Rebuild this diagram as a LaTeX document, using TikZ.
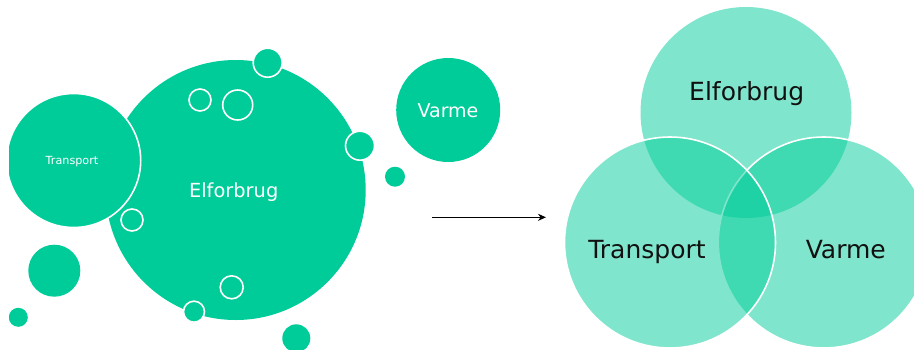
\documentclass[tikz,border=0pt]{standalone}
\usepackage{fontspec}
\setmainfont{DejaVu Sans}
\usetikzlibrary{arrows.meta}
\definecolor{grn}{RGB}{0,204,153}
\definecolor{txt}{RGB}{17,17,17}
\tikzset{
  bub/.style={circle, inner sep=0pt, outer sep=0pt, fill=grn, draw=none},
  ring/.style={bub, draw=white, line width=1.6pt},
  venn/.style={circle, inner sep=0pt, outer sep=0pt, fill=grn, fill opacity=0.5},
  wlab/.style={text=white, inner sep=0pt, anchor=base},
  blab/.style={text=txt, inner sep=0pt, anchor=base, font=\fontsize{25}{30}\selectfont},
}
\begin{document}
\begin{tikzpicture}[x=1pt,y=-1pt]
\useasboundingbox (0,0) rectangle (914,349);
\begin{scope}
\clip (9,0) rectangle (914,349);
% left cluster
\node[bub, minimum size=260pt] (elf) at (235.7,190) {};
\node[ring, minimum size=134pt] (tra) at (73.7,160.5) {};
\node[ring, minimum size=29pt] (s1) at (267.7,62.7) {};
\node[ring, minimum size=22pt] (r1) at (200,100) {};
\node[ring, minimum size=30pt] (r2) at (237.7,105) {};
\node[ring, minimum size=29pt] (s2) at (360,145.7) {};
\node[bub, minimum size=20pt] (s3) at (395,176.7) {};
\node[ring, minimum size=22pt] (r3) at (132,220) {};
\node[bub, minimum size=52pt] (s4) at (54.3,270.7) {};
\node[bub, minimum size=19pt] (s5) at (18.3,317.3) {};
\node[ring, minimum size=23pt] (r4) at (231.7,287.3) {};
\node[ring, minimum size=21pt] (s6) at (194,311.7) {};
\node[bub, minimum size=28pt] (s7) at (296.3,338.3) {};
\node[bub, minimum size=104pt] (var) at (448.2,110) {};
\end{scope}
\node[wlab, font=\fontsize{19.4}{23}\selectfont] (elft) at (233.7,197.3) {Elforbrug};
\node[wlab, font=\fontsize{19}{23}\selectfont] (vart) at (448,117.7) {Varme};
\node[wlab, font=\fontsize{11.2}{13}\selectfont] (trat) at (72,164) {Transport};
% arrow
\coordinate (a1) at (432,217.3);
\coordinate (a2) at (546,217.3);
\draw[line width=1pt, -{Stealth[length=8pt,width=7pt]}] (a1) -- (a2);
% Venn
\node[venn, minimum size=211pt] (vtop) at (746,112.5) {};
\node[venn, minimum size=211pt, draw=white, draw opacity=1, line width=1.6pt] (vright) at (823.8,242.5) {};
\node[venn, minimum size=211pt, draw=white, draw opacity=1, line width=1.6pt] (vleft) at (670,242.5) {};
\node[blab] (vtopt) at (746.7,100.7) {Elforbrug};
\node[blab] (vleftt) at (647,258.3) {Transport};
\node[blab] (vrightt) at (845.8,258.3) {Varme};
\end{tikzpicture}
\end{document}
